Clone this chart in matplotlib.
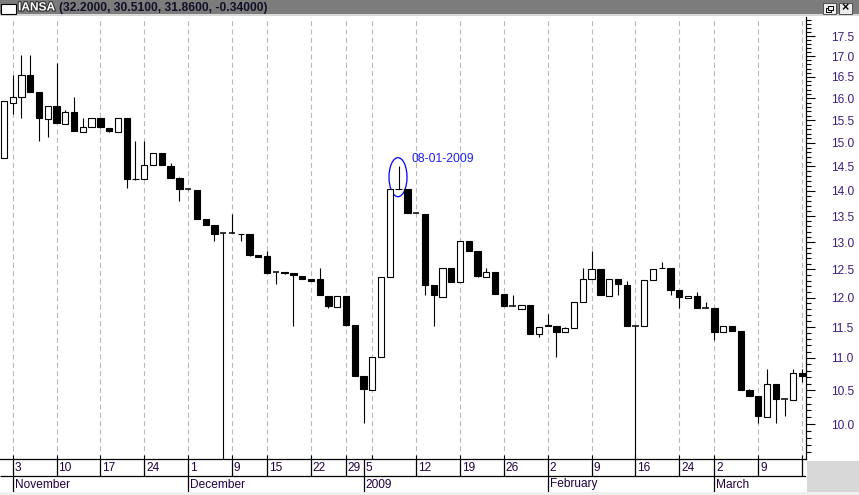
import numpy as np
import matplotlib
matplotlib.use('Agg')
import matplotlib.pyplot as plt
from matplotlib.patches import Ellipse, Rectangle
from matplotlib.ticker import FixedLocator, FixedFormatter, NullFormatter
from matplotlib.transforms import ScaledTranslation
import matplotlib.patheffects as pe

plt.rcParams['font.family'] = ['Liberation Sans', 'DejaVu Sans']

# daily candles, 31 Oct 2008 .. 16 Mar 2009 (index = trading day)
opens = [14.67, 15.90, 16.03, 16.55, 16.14, 15.53, 15.83, 15.42, 15.68, 15.25,
         15.35, 15.54, 15.32, 15.25, 15.54, 14.25, 14.24, 14.53, 14.78, 14.52,
         14.27, 14.03, 14.02, 13.45, 13.33, 13.17, 13.17, 13.16, 13.15, 12.76,
         12.74, 12.45, 12.45, 12.44, 12.38, 12.32, 12.32, 12.03, 11.84, 12.03,
         11.53, 10.72, 10.51, 11.01, 12.37, 14.03, 14.03, 13.56, 13.54, 12.22,
         12.02, 12.52, 12.27, 13.02, 12.84, 12.36, 12.46, 12.07, 11.85, 11.81,
         11.87, 11.39, 11.52, 11.52, 11.42, 11.48, 11.93, 12.32, 12.51, 12.03,
         12.32, 12.22, 11.52, 11.52, 12.31, 12.52, 12.52, 12.14, 12.00, 12.03,
         11.83, 11.83, 11.42, 11.52, 11.43, 10.50, 10.41, 10.10, 10.59, 10.37,
         10.36, 10.76]
highs = [15.93, 16.55, 17.02, 17.02, 16.14, 15.83, 16.84, 15.74, 16.04, 15.55,
         15.54, 15.54, 15.32, 15.54, 15.54, 15.05, 15.05, 14.78, 14.78, 14.58,
         14.29, 14.03, 14.02, 13.45, 13.33, 13.17, 13.54, 13.16, 13.15, 12.76,
         12.83, 12.45, 12.45, 12.44, 12.38, 12.32, 12.52, 12.03, 12.03, 12.03,
         11.53, 10.72, 11.01, 12.36, 14.03, 14.52, 14.03, 13.56, 13.54, 12.22,
         12.52, 12.52, 13.02, 13.02, 12.84, 12.52, 12.46, 12.07, 12.04, 11.87,
         11.87, 11.51, 11.72, 11.52, 11.51, 11.93, 12.52, 12.83, 12.51, 12.32,
         12.32, 12.29, 11.52, 12.31, 12.51, 12.63, 12.52, 12.14, 12.03, 12.09,
         11.93, 11.83, 11.52, 11.52, 11.43, 10.52, 10.41, 10.83, 10.59, 10.37,
         10.83, 10.83]
lows = [14.67, 15.64, 15.55, 16.15, 15.05, 15.14, 15.44, 15.42, 15.27, 15.25,
        15.35, 15.32, 15.24, 15.25, 14.05, 14.23, 14.24, 14.53, 14.53, 14.27,
        13.79, 14.02, 13.45, 13.33, 13.02, 9.30, 13.17, 13.02, 12.74, 12.72,
        12.44, 12.23, 12.42, 11.52, 12.32, 12.30, 12.04, 11.83, 11.84, 11.52,
        10.72, 10.02, 10.51, 11.01, 12.37, 14.03, 13.55, 13.55, 12.04, 11.52,
        12.02, 12.28, 12.27, 12.84, 12.36, 12.36, 12.07, 11.85, 11.85, 11.81,
        11.39, 11.33, 11.52, 11.02, 11.42, 11.48, 11.93, 12.32, 12.04, 12.03,
        12.04, 11.52, 9.30, 11.52, 12.31, 12.52, 12.04, 11.83, 12.00, 11.83,
        11.83, 11.29, 11.42, 11.44, 10.51, 10.41, 10.02, 10.10, 10.02, 10.12,
        10.36, 10.63]
closes = [15.93, 16.04, 16.55, 16.15, 15.55, 15.83, 15.44, 15.68, 15.27, 15.35,
          15.54, 15.35, 15.27, 15.54, 14.25, 14.24, 14.54, 14.78, 14.53, 14.27,
          14.03, 14.03, 13.45, 13.33, 13.16, 13.17, 13.17, 13.15, 12.76, 12.73,
          12.44, 12.45, 12.44, 12.40, 12.33, 12.30, 12.04, 11.85, 12.03, 11.53,
          10.72, 10.52, 11.01, 12.36, 14.03, 14.04, 13.55, 13.56, 12.22, 12.04,
          12.52, 12.28, 13.02, 12.84, 12.38, 12.46, 12.07, 11.85, 11.85, 11.87,
          11.39, 11.51, 11.53, 11.42, 11.48, 11.93, 12.32, 12.51, 12.04, 12.32,
          12.23, 11.52, 11.52, 12.31, 12.51, 12.53, 12.14, 12.01, 12.03, 11.83,
          11.83, 11.42, 11.52, 11.44, 10.51, 10.42, 10.11, 10.59, 10.37, 10.37,
          10.76, 10.72]

grid_days = [1, 6, 11, 16, 21, 26, 30, 35, 39, 42, 47, 52, 57, 62, 67, 72, 77, 81, 86, 91]
day_ticks = [1, 6, 11, 16, 21, 26, 30, 35, 39, 41, 47, 52, 57, 62, 67, 72, 77, 81, 86, 91]
day_labels = ['3', '10', '17', '24', '1', '9', '15', '22', '29', '5',
              '12', '19', '26', '2', '9', '16', '24', '2', '9', '16']
month_ticks = [1, 21, 41, 62, 81]
month_labels = ['November', 'December', '2009', 'February', 'March']
price_ticks = [10.0, 10.5, 11.0, 11.5, 12.0, 12.5, 13.0, 13.5, 14.0, 14.5,
               15.0, 15.5, 16.0, 16.5, 17.0, 17.5]

note_day = 45
note_text = '08-01-2009'
symbol = 'IANSA'
symbol_values = '(32.2000, 30.5100, 31.8600, -0.34000)'

W, H = 859, 495
fig = plt.figure(figsize=(W / 100, H / 100), dpi=100)
fig.patch.set_facecolor('white')


def box(x0, y0, x1, y1):
    # pixel box (top-left origin) -> figure rect
    return [x0 / W, 1 - y1 / H, (x1 - x0) / W, (y1 - y0) / H]


xlim = (-0.448, 91.447)

# ---- price panel
ax = fig.add_axes(box(0, 17, 806, 459))
x = np.arange(len(opens))
o = np.array(opens)
c = np.array(closes)
up = c > o
down = c < o
flat = c == o
bw = 0.72

ax.vlines(x, lows, highs, color='black', lw=0.8, zorder=2)
ax.bar(x[up], (c - o)[up], bottom=o[up], width=bw, facecolor='white',
       edgecolor='black', lw=0.8, zorder=3)
ax.bar(x[down], (o - c)[down], bottom=c[down], width=bw, facecolor='black',
       edgecolor='black', lw=0.8, zorder=3)
ax.hlines(o[flat], x[flat] - bw / 2, x[flat] + bw / 2, color='black', lw=1.1, zorder=3)

ax.set_yscale('log')
ax.set_ylim(9.508, 17.99)
ax.set_xlim(*xlim)

ax.yaxis.tick_right()
ax.yaxis.set_major_locator(FixedLocator(price_ticks))
ax.yaxis.set_major_formatter(FixedFormatter(['%.1f' % p for p in price_ticks]))
minor = [round(v, 1) for v in np.arange(9.6, 18.0, 0.1) if round(v * 10) % 5 != 0]
ax.yaxis.set_minor_locator(FixedLocator(minor))
ax.yaxis.set_minor_formatter(NullFormatter())
ax.tick_params(axis='y', which='major', direction='out', length=6.7, width=0.8,
               pad=11.3, labelsize=8.6, labelcolor='#3b1c80', color='black')
ax.tick_params(axis='y', which='minor', direction='out', length=3.6, width=0.8, color='black')

ax.set_xticks(grid_days)
ax.set_xticklabels([])
ax.tick_params(axis='x', direction='in', length=2.8, width=0.8, color='black')
ax.grid(axis='x', color='#b8b8b8', lw=0.8, ls=(0, (4.5, 3)))
ax.set_axisbelow(True)

for s in ['left', 'top']:
    ax.spines[s].set_visible(False)
for s in ['right', 'bottom']:
    ax.spines[s].set_linewidth(0.9)
    ax.spines[s].set_color('black')

# annotation
note_price = (highs[note_day] * closes[note_day]) ** 0.5
ell = Ellipse((0, 0), 0.18, 0.39, fill=False, edgecolor='#0000ff', lw=0.9,
              transform=fig.dpi_scale_trans + ScaledTranslation(note_day - 0.07, note_price, ax.transData))
ax.add_patch(ell)
ax.annotate(note_text, xy=(note_day, note_price), xytext=(12.5, 18.5),
            textcoords='offset pixels', ha='left', va='center',
            fontsize=8.7, color='#2020f0')

# ---- date axis
axd = fig.add_axes(box(0, 459, 806, 492))
axd.set_xlim(*xlim)
axd.set_ylim(33, 0)
axd.axis('off')
axd.hlines(17, xlim[0], xlim[1], color='black', lw=0.9)
axd.vlines(day_ticks, 0, 17, color='black', lw=0.9)
axd.vlines(month_ticks, 17, 33, color='black', lw=0.9)
for d, lab in zip(day_ticks, day_labels):
    axd.text(d + 0.22, 9, lab, ha='left', va='center', fontsize=8.6,
             color='#200040', clip_on=True)
for d, lab in zip(month_ticks, month_labels):
    axd.text(d + 0.22, 25.5, lab, ha='left', va='center', fontsize=8.6,
             color='#200040', clip_on=True)

# ---- window chrome
fig.patches.append(Rectangle((0, 1 - 14 / H), 1, 14 / H, transform=fig.transFigure,
                             facecolor='#7c7c7c', edgecolor='none', zorder=0))
fig.patches.append(Rectangle((0, 1 - 16 / H), 1, 2 / H, transform=fig.transFigure,
                             facecolor='#d8d8d8', edgecolor='none', zorder=0))
fig.patches.append(Rectangle((1 / W, 1 - 14 / H), 15 / W, 10 / H, transform=fig.transFigure,
                             facecolor='white', edgecolor='black', lw=0.8, zorder=1))
for bx in (823, 839):
    fig.patches.append(Rectangle((bx / W, 1 - 14 / H), 13 / W, 11 / H, transform=fig.transFigure,
                                 facecolor='#ececec', edgecolor='#505050', lw=0.7, zorder=1))
fig.patches.append(Rectangle((826 / W, 1 - 12 / H), 5 / W, 4 / H, transform=fig.transFigure,
                             facecolor='none', edgecolor='black', lw=0.7, zorder=2))
fig.patches.append(Rectangle((828 / W, 1 - 10 / H), 5 / W, 4 / H, transform=fig.transFigure,
                             facecolor='#ececec', edgecolor='black', lw=0.7, zorder=2))
fig.text(845.5 / W, 1 - 8.5 / H, '\u00d7', ha='center', va='center', fontsize=9,
         color='black', fontweight='bold')
fig.patches.append(Rectangle((806.5 / W, 0), 53 / W, 34 / H, transform=fig.transFigure,
                             facecolor='#d8d8d8', edgecolor='none', zorder=0))
fig.patches.append(Rectangle((0, 0), 1, 3 / H, transform=fig.transFigure,
                             facecolor='#efefef', edgecolor='none', zorder=0))

fig.text(18 / W, 1 - 7.5 / H, symbol, ha='left', va='center', fontsize=8.6,
         fontweight='bold', color='white',
         path_effects=[pe.withStroke(linewidth=1.6, foreground='#303030')])
fig.text(59 / W, 1 - 7.5 / H, symbol_values, ha='left', va='center', fontsize=8.7,
         fontweight='bold', color='#101028')

fig.savefig('out.png', dpi=100)
